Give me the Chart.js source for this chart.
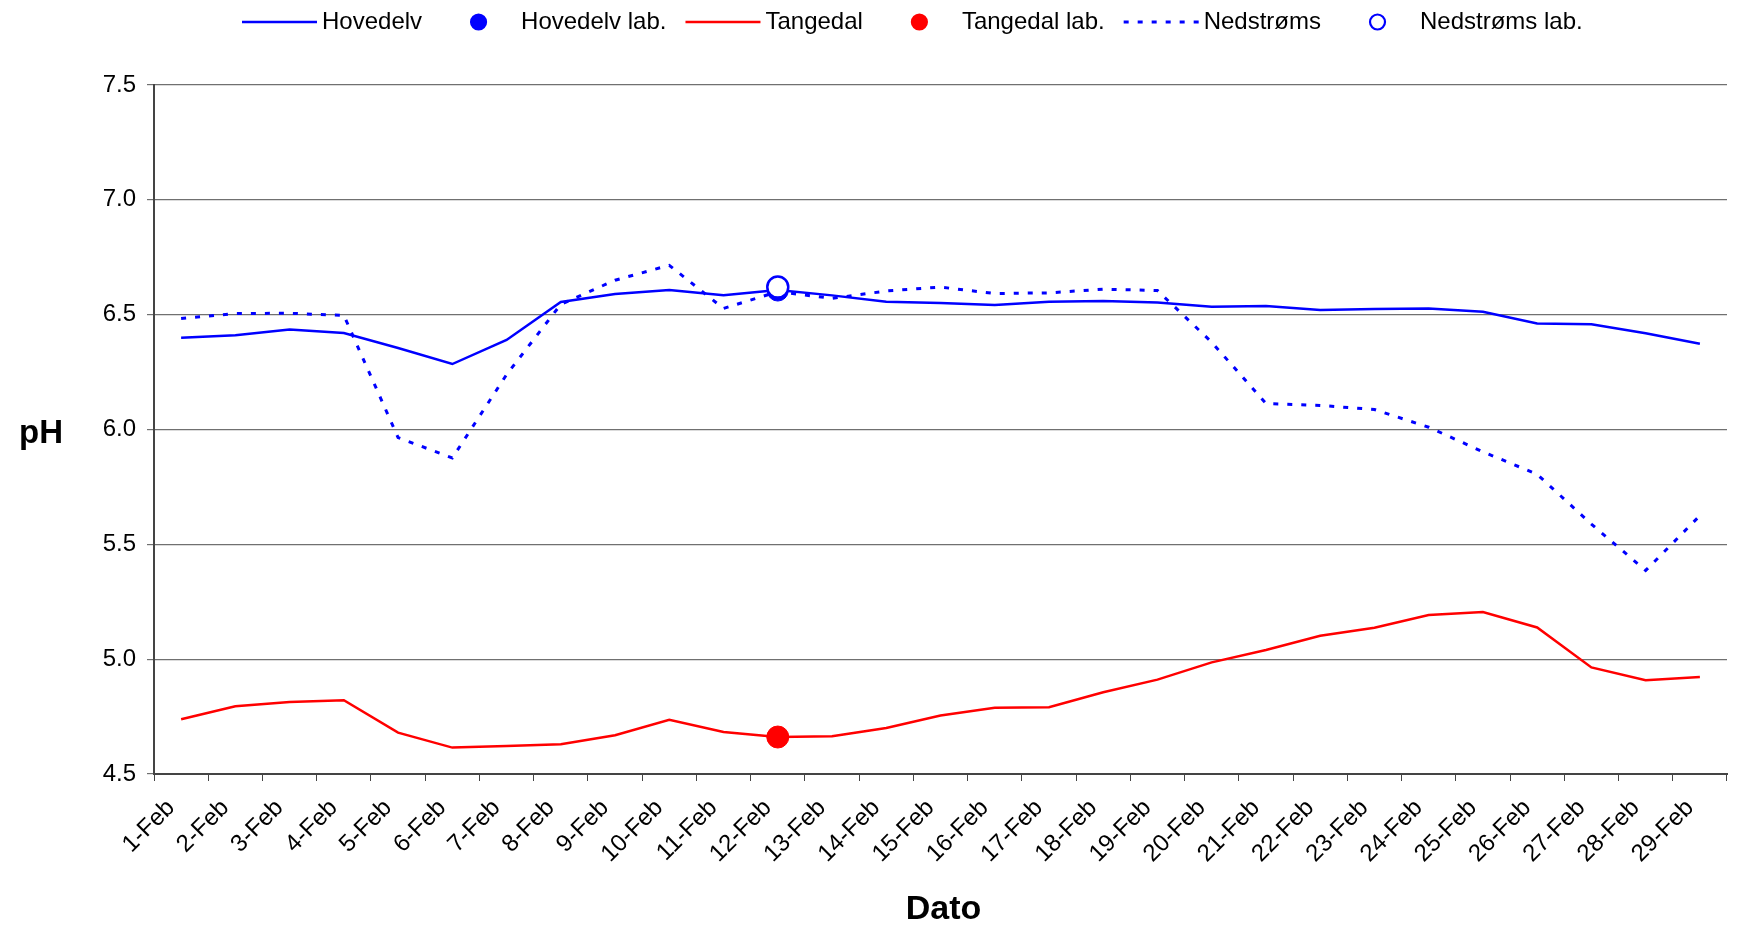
<!DOCTYPE html>
<html>
<head>
<meta charset="utf-8">
<title>pH</title>
<script src="https://cdn.jsdelivr.net/npm/chart.js@4"></script>
<style>
    html, body { margin: 0; padding: 0; background: #fff; }
    #wrap { width: 1740px; height: 928px; position: relative; }
</style>
</head>
<body>
<div id="wrap"><canvas id="phChart"></canvas></div>
<script>
// ======================== 数据 ========================
const dates = ['1-Feb', '2-Feb', '3-Feb', '4-Feb', '5-Feb', '6-Feb', '7-Feb', '8-Feb', '9-Feb', '10-Feb',
    '11-Feb', '12-Feb', '13-Feb', '14-Feb', '15-Feb', '16-Feb', '17-Feb', '18-Feb', '19-Feb', '20-Feb',
    '21-Feb', '22-Feb', '23-Feb', '24-Feb', '25-Feb', '26-Feb', '27-Feb', '28-Feb', '29-Feb'];

const hovedelv = [6.40, 6.41, 6.435, 6.42, 6.355, 6.285, 6.39, 6.555, 6.59, 6.607,
    6.585, 6.607, 6.584, 6.556, 6.551, 6.542, 6.556, 6.559, 6.553, 6.535,
    6.538, 6.52, 6.525, 6.527, 6.513, 6.462, 6.458, 6.419, 6.373];

const tangedal = [4.738, 4.795, 4.813, 4.821, 4.68, 4.615, 4.622, 4.63, 4.669, 4.736,
    4.683, 4.661, 4.664, 4.70, 4.755, 4.788, 4.791, 4.856, 4.911, 4.986,
    5.04, 5.102, 5.137, 5.192, 5.205, 5.138, 4.964, 4.908, 4.922];

const nedstroms = [6.483, 6.505, 6.506, 6.497, 5.965, 5.876, 6.239, 6.545, 6.65, 6.715,
    6.527, 6.60, 6.571, 6.603, 6.62, 6.592, 6.595, 6.611, 6.605, 6.38,
    6.113, 6.105, 6.087, 6.01, 5.903, 5.805, 5.588, 5.386, 5.625];

// 实验室测量（仅 12-Feb）
const hovedelvLab = [null, null, null, null, null, null, null, null, null, null,
    null, 6.605, null, null, null, null, null, null, null, null,
    null, null, null, null, null, null, null, null, null];
const tangedalLab = [null, null, null, null, null, null, null, null, null, null,
    null, 4.661, null, null, null, null, null, null, null, null,
    null, null, null, null, null, null, null, null, null];
const nedstromsLab = [null, null, null, null, null, null, null, null, null, null,
    null, 6.62, null, null, null, null, null, null, null, null,
    null, null, null, null, null, null, null, null, null];

const yTicks = [4.5, 5.0, 5.5, 6.0, 6.5, 7.0, 7.5];

const FONT = "'Liberation Sans', Arial, sans-serif";
const BLUE = '#0000FF';
const RED = '#FF0000';

// ======================== 图例 + 轴标题 ========================
const legendItems = [
    { text: 'Hovedelv', kind: 'line', color: BLUE, dash: [] },
    { text: 'Hovedelv lab.', kind: 'dot', color: BLUE, fill: BLUE },
    { text: 'Tangedal', kind: 'line', color: RED, dash: [] },
    { text: 'Tangedal lab.', kind: 'dot', color: RED, fill: RED },
    { text: 'Nedstrøms', kind: 'line', color: BLUE, dash: [5, 9] },
    { text: 'Nedstrøms lab.', kind: 'dot', color: BLUE, fill: '#fff' }
];

const extrasPlugin = {
    id: 'extras',
    afterDraw(chart) {
        const ctx = chart.ctx;
        const area = chart.chartArea;
        ctx.save();
        ctx.font = '24px ' + FONT;
        ctx.textBaseline = 'middle';
        ctx.textAlign = 'left';
        let x = 242;
        const y = 22;
        legendItems.forEach(item => {
            if (item.kind === 'line') {
                ctx.strokeStyle = item.color;
                ctx.lineWidth = item.dash.length ? 3 : 2.5;
                ctx.setLineDash(item.dash);
                ctx.beginPath();
                ctx.moveTo(x, y);
                ctx.lineTo(x + 75, y);
                ctx.stroke();
                ctx.setLineDash([]);
            } else {
                ctx.beginPath();
                ctx.arc(x + 37.5, y, 7.5, 0, Math.PI * 2);
                ctx.fillStyle = item.fill;
                ctx.fill();
                ctx.strokeStyle = item.color;
                ctx.lineWidth = 2.2;
                ctx.stroke();
            }
            ctx.fillStyle = '#000';
            ctx.fillText(item.text, x + 80, y);
            x += 80 + ctx.measureText(item.text).width + 19;
        });

        // 轴标题（水平）
        ctx.font = 'bold 33px ' + FONT;
        ctx.textAlign = 'center';
        ctx.fillText('pH', 41, (area.top + area.bottom) / 2 + 4);
        ctx.font = 'bold 34px ' + FONT;
        ctx.fillText('Dato', (area.left + area.right) / 2 + 3, 910);
        ctx.restore();
    }
};

// ======================== 图表 ========================
const ctx = document.getElementById('phChart').getContext('2d');

window.phChart = new Chart(ctx, {
    type: 'line',
    data: {
        labels: dates,
        datasets: [
            {
                label: 'Nedstrøms lab.',
                data: nedstromsLab,
                showLine: false,
                pointRadius: 10.5,
                pointBackgroundColor: '#fff',
                pointBorderColor: BLUE,
                pointBorderWidth: 2.5,
                order: 0
            },
            {
                label: 'Hovedelv lab.',
                data: hovedelvLab,
                showLine: false,
                pointRadius: 10.5,
                pointBackgroundColor: BLUE,
                pointBorderColor: BLUE,
                order: 1
            },
            {
                label: 'Tangedal lab.',
                data: tangedalLab,
                showLine: false,
                pointRadius: 11,
                pointBackgroundColor: RED,
                pointBorderColor: RED,
                order: 2
            },
            {
                label: 'Hovedelv',
                data: hovedelv,
                borderColor: BLUE,
                borderWidth: 2.5,
                pointRadius: 0,
                order: 3
            },
            {
                label: 'Tangedal',
                data: tangedal,
                borderColor: RED,
                borderWidth: 2.5,
                pointRadius: 0,
                order: 4
            },
            {
                label: 'Nedstrøms',
                data: nedstroms,
                borderColor: BLUE,
                borderWidth: 3,
                borderDash: [5, 9],
                pointRadius: 0,
                order: 5
            }
        ]
    },
    options: {
        responsive: true,
        maintainAspectRatio: false,
        animation: false,
        events: [],
        layout: {
            padding: { top: 85, right: 0, bottom: 0, left: 0 }
        },
        elements: {
            line: { tension: 0, fill: false }
        },
        plugins: {
            legend: { display: false },
            tooltip: { enabled: false }
        },
        scales: {
            x: {
                offset: true,
                grid: {
                    display: true,
                    offset: true,
                    drawOnChartArea: false,
                    drawTicks: true,
                    tickLength: 7,
                    color: '#444'
                },
                border: { color: '#444', width: 2 },
                ticks: {
                    autoSkip: false,
                    maxRotation: 45,
                    minRotation: 45,
                    padding: 13,
                    labelOffset: -10,
                    color: '#000',
                    font: { family: FONT, size: 24 }
                },
                afterFit(scale) {
                    scale.height = 154;
                }
            },
            y: {
                min: 4.5,
                max: 7.5,
                afterBuildTicks(scale) {
                    scale.ticks = yTicks.map(v => ({ value: v }));
                },
                grid: {
                    color: '#707070',
                    lineWidth: 1.2,
                    tickLength: 7
                },
                border: { color: '#444', width: 2 },
                ticks: {
                    padding: 11,
                    color: '#000',
                    font: { family: FONT, size: 24 },
                    callback: v => Number(v).toFixed(1)
                },
                afterFit(scale) {
                    scale.width = 154;
                }
            }
        }
    },
    plugins: [extrasPlugin]
});
</script>
</body>
</html>
